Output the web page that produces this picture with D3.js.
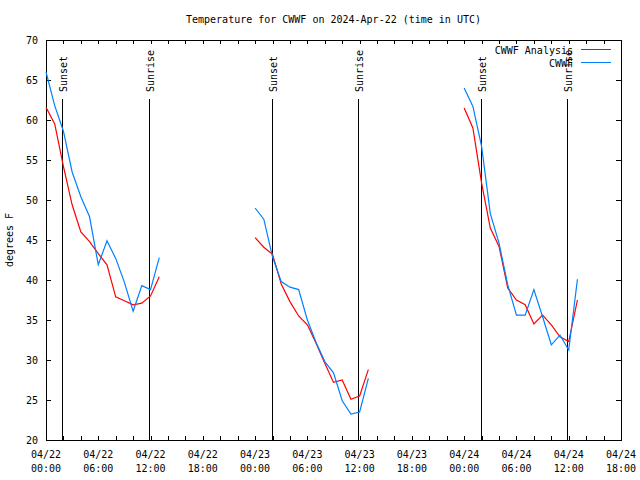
<!DOCTYPE html>
<html>
<head>
<meta charset="utf-8">
<script src="https://cdn.jsdelivr.net/npm/d3@7"></script>
<style>
  html, body { margin: 0; padding: 0; background: #fff; }
  svg { display: block; }
  text { font-family: "DejaVu Sans Mono", monospace; font-size: 10px; fill: #000; }
</style>
</head>
<body>
<svg id="chart" width="640" height="480"></svg>
<script>
// ---- data ----
const chartTitle = "Temperature for CWWF on 2024-Apr-22 (time in UTC)";
const yLabel = "degrees F";
const seriesNames = ["CWWF Analysis", "CWWF"];
const seriesColors = ["#ff0000", "#0080ff"];
const startUTC = "2024-04-22T00:00:00Z";
const endUTC = "2024-04-24T18:00:00Z";
const yTicks = [20, 25, 30, 35, 40, 45, 50, 55, 60, 65, 70];

// hours after start
const hours1 = [0, 1, 2, 3, 4, 5, 6, 7, 8, 9, 10, 11, 12, 13];
const analysis1 = [61.6, 59.5, 54.2, 49.4, 46.0, 44.8, 43.3, 41.9, 37.9, 37.4, 36.9, 37.1, 38.0, 40.4];
const obs1 = [66.0, 61.8, 58.6, 53.5, 50.4, 47.9, 41.9, 44.9, 42.7, 39.7, 36.1, 39.3, 38.8, 42.8];

const hours2 = [24, 25, 26, 27, 28, 29, 30, 31, 32, 33, 34, 35, 36, 37];
const analysis2 = [45.3, 44.1, 43.2, 39.5, 37.3, 35.5, 34.4, 32.1, 29.6, 27.2, 27.5, 25.1, 25.5, 28.8];
const obs2 = [49.0, 47.6, 42.9, 39.8, 39.1, 38.8, 35.0, 32.2, 29.8, 28.4, 24.9, 23.25, 23.5, 27.7];

const hours3 = [48, 49, 50, 51, 52, 53, 54, 55, 56, 57, 58, 59, 60, 61];
const analysis3 = [61.5, 59.0, 52.1, 46.5, 44.2, 39.0, 37.5, 36.9, 34.5, 35.6, 34.4, 32.9, 32.3, 37.5];
const obs3 = [64.0, 61.7, 56.7, 48.3, 44.6, 39.4, 35.6, 35.6, 38.8, 35.4, 31.9, 33.1, 31.25, 40.1];

const sunsetHours = [1.87, 25.95, 49.97];
const sunriseHours = [11.86, 35.85, 59.84];

// ---- layout ----
const L = 46, R = 621, T = 40, B = 440;
const svg = d3.select("#chart");
const t0 = new Date(startUTC);
const toDate = h => new Date(t0.getTime() + h * 3600 * 1000);

const x = d3.scaleUtc().domain([t0, new Date(endUTC)]).range([L, R]);
const y = d3.scaleLinear().domain([20, 70]).range([B, T]);

// border
svg.append("rect").attr("x", L + 0.5).attr("y", T + 0.5)
  .attr("width", R - L).attr("height", B - T)
  .attr("fill", "none").attr("stroke", "#000").attr("stroke-width", 1)
  .attr("shape-rendering", "crispEdges");

// x ticks (every 2 h, inward, mirrored)
const xTicks = x.ticks(d3.utcHour.every(2));
const tk = svg.append("g").attr("stroke", "#000").attr("shape-rendering", "crispEdges");
xTicks.forEach(d => {
  const px = Math.round(x(d)) + 0.5;
  tk.append("line").attr("x1", px).attr("x2", px).attr("y1", B).attr("y2", B - 4);
  tk.append("line").attr("x1", px).attr("x2", px).attr("y1", T).attr("y2", T + 4);
});
yTicks.forEach(v => {
  const py = Math.round(y(v)) + 0.5;
  tk.append("line").attr("x1", L).attr("x2", L + 5).attr("y1", py).attr("y2", py);
  tk.append("line").attr("x1", R).attr("x2", R - 5).attr("y1", py).attr("y2", py);
});

// y tick labels
svg.append("g").selectAll("text").data(yTicks).join("text")
  .attr("x", 38).attr("y", d => y(d)).attr("dy", "0.35em")
  .attr("text-anchor", "end").text(d => d);

// x tick labels (every 6 h)
const fmtDate = d3.utcFormat("%m/%d"), fmtTime = d3.utcFormat("%H:%M");
const xLabelTicks = x.ticks(d3.utcHour.every(6));
const xl = svg.append("g");
xLabelTicks.forEach(d => {
  xl.append("text").attr("x", x(d)).attr("y", 458).attr("text-anchor", "middle").text(fmtDate(d));
  xl.append("text").attr("x", x(d)).attr("y", 472).attr("text-anchor", "middle").text(fmtTime(d));
});

// title & y label
svg.append("text").attr("x", (L + R) / 2).attr("y", 23).attr("text-anchor", "middle").text(chartTitle);
svg.append("text").attr("transform", "translate(13,240) rotate(-90)")
  .attr("text-anchor", "middle").text(yLabel);

// sunrise / sunset lines
const sunEvents = sunsetHours.map(h => ({ h, label: "Sunset" }))
  .concat(sunriseHours.map(h => ({ h, label: "Sunrise" })));
const sg = svg.append("g");
sunEvents.forEach(e => {
  const px = Math.round(x(toDate(e.h))) + 0.5;
  sg.append("line").attr("x1", px).attr("x2", px).attr("y1", 99).attr("y2", B)
    .attr("stroke", "#000").attr("shape-rendering", "crispEdges");
  sg.append("text").attr("transform", `translate(${px + 4},92) rotate(-90)`)
    .attr("text-anchor", "start").text(e.label);
});

// series lines
const line = d3.line().x(d => x(toDate(d.h))).y(d => y(d.v));
const segments = [
  [hours1, analysis1, obs1],
  [hours2, analysis2, obs2],
  [hours3, analysis3, obs3]
];
const lg = svg.append("g").attr("fill", "none").attr("stroke-width", 1.2);
segments.forEach(([hs, a, o]) => {
  [a, o].forEach((vals, i) => {
    lg.append("path")
      .datum(hs.map((h, k) => ({ h, v: vals[k] })))
      .attr("d", line)
      .attr("stroke", seriesColors[i]);
  });
});

// legend
seriesNames.forEach((name, i) => {
  const ly = 50 + i * 13;
  svg.append("text").attr("x", 573).attr("y", ly).attr("dy", "0.35em")
    .attr("text-anchor", "end").text(name);
  svg.append("line").attr("x1", 581).attr("x2", 611)
    .attr("y1", ly - 0.5).attr("y2", ly - 0.5)
    .attr("stroke", seriesColors[i]).attr("shape-rendering", "crispEdges");
});
</script>
</body>
</html>
